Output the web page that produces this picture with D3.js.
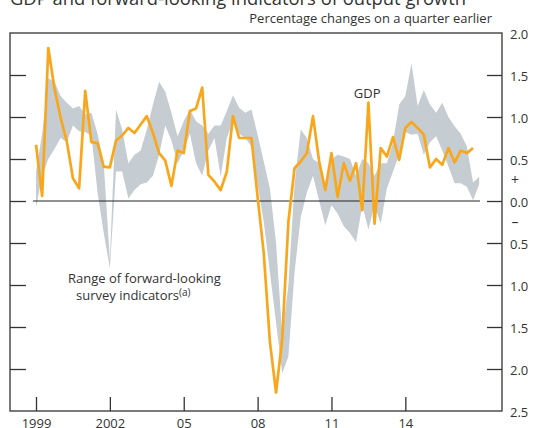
<!DOCTYPE html>
<head>
<meta charset="utf-8">
<style>
body { margin: 0; background: #fff; }
text { font-family: "Open Sans", sans-serif; fill: #333; }
.band { fill: #c5cdd2; stroke: none; }
.gdp { fill: none; stroke: #f8a71c; stroke-width: 2.7px; stroke-linejoin: round; }
.frame { fill: none; stroke: #333; stroke-width: 1.3px; }
.zero { stroke: #222; stroke-width: 1px; }
.axis .domain { display: none; }
.axis line { stroke: #333; stroke-width: 1.3px; }
.axis text { font-family: "Open Sans", sans-serif; font-size: 13px; fill: #333; }
</style>
<script src="https://d3js.org/d3.v7.min.js"></script>
</head>
<body>
<svg class="chart" width="533" height="428"></svg>
<script>

// Quarterly data, 1999 Q1 onwards.
var startYear = 1999;

// GDP, percentage change on a quarter earlier (1999 Q1 - 2016 Q4).
var gdp = [
  0.67, 0.06, 1.82, 1.34, 0.99, 0.71, 0.27, 0.15, 1.31, 0.70,
  0.69, 0.41, 0.40, 0.72, 0.78, 0.87, 0.81, 0.91, 1.01, 0.81,
  0.57, 0.48, 0.18, 0.60, 0.57, 1.07, 1.10, 1.35, 0.31, 0.23,
  0.13, 0.35, 1.01, 0.75, 0.75, 0.75, 0.05, -0.62, -1.68, -2.28,
  -1.64, -0.25, 0.39, 0.47, 0.57, 1.01, 0.47, 0.13, 0.57, 0.05,
  0.45, 0.24, 0.45, -0.11, 1.17, -0.27, 0.63, 0.53, 0.76, 0.49,
  0.87, 0.94, 0.87, 0.79, 0.40, 0.50, 0.43, 0.63, 0.46, 0.60,
  0.57, 0.63
];

// Range of forward-looking survey indicators (1999 Q1 - 2017 Q1).
var rangeHigh = [
  0.35, 0.80, 1.46, 1.42, 1.25, 1.17, 1.10, 1.13, 1.03, 1.05,
  0.80, 0.45, -0.70, 1.09, 0.85, 0.45, 0.55, 0.60, 0.85, 1.15,
  1.42, 1.30, 1.05, 0.77, 0.95, 1.09, 0.95, 0.90, 0.80, 0.90,
  0.90, 1.07, 1.26, 1.11, 1.05, 1.09, 0.79, 0.47, 0.15, -0.50,
  -1.60, -1.00, 0.20, 0.85, 0.75, 0.50, 0.45, 0.20, 0.50, 0.55,
  0.53, 0.50, 0.30, 0.50, 0.45, 0.30, 0.45, 0.45, 0.70, 1.15,
  1.25, 1.64, 1.13, 1.32, 1.15, 1.05, 1.17, 1.00, 0.89, 0.80,
  0.65, 0.22, 0.29
];
var rangeLow = [
  -0.08, 0.30, 0.50, 0.62, 0.75, 0.70, 0.90, 0.83, 0.82, 0.78,
  0.10, -0.38, -0.80, 0.35, 0.35, 0.03, 0.13, 0.20, 0.22, 0.30,
  0.55, 0.90, 0.72, 0.45, 0.60, 0.80, 0.45, 0.30, 0.60, 0.75,
  0.29, 0.75, 0.95, 0.80, 0.75, 0.65, 0.20, -0.25, -0.85, -1.45,
  -2.05, -1.85, -0.85, -0.20, 0.10, 0.30, 0.00, -0.29, -0.05, -0.15,
  -0.30, -0.38, -0.49, -0.05, -0.34, -0.05, -0.27, 0.15, 0.35, 0.55,
  0.82, 0.79, 0.80, 0.55, 0.70, 0.77, 0.60, 0.41, 0.21, 0.21,
  0.17, 0.01, 0.20
];

// Axis ticks and labels.
var xTickYears = [1999, 2002, 2005, 2008, 2011, 2014];
var xTickLabels = ["1999", "2002", "05", "08", "11", "14"];
var yTicks = [1.5, 1.0, 0.5, 0.0, -0.5, -1.0, -1.5, -2.0];
var yLabels = [2.0, 1.5, 1.0, 0.5, 0.0, -0.5, -1.0, -1.5, -2.0, -2.5];

var svg = d3.select(".chart"),
  frame = {left: 10, top: 33, right: 502, bottom: 411};

// Scales: quarters on x, percentages on y.
var x = d3.scaleLinear().domain([1999, 2017]).range([36, 479.2]);
var y = d3.scaleLinear().domain([-2.5, 2.0]).range([frame.bottom, frame.top]);

function qDate(i) { return startYear + i / 4; }

// Title (clipped at the top of the image) and subtitle.
svg.append("text")
  .attr("x", 10).attr("y", 4.7)
  .style("font-size", "18.4px")
  .text("GDP and forward-looking indicators of output growth");
svg.append("text")
  .attr("x", 492).attr("y", 23)
  .attr("text-anchor", "end")
  .style("font-size", "13px")
  .text("Percentage changes on a quarter earlier");

// Survey range band.
var area = d3.area()
  .x(function(d, i) { return x(qDate(i)); })
  .y0(function(d, i) { return y(rangeLow[i]); })
  .y1(function(d) { return y(d); });
svg.append("path")
  .datum(rangeHigh)
  .attr("class", "band")
  .attr("d", area);

// Zero line.
svg.append("line")
  .attr("class", "zero")
  .attr("x1", x(1998.875)).attr("x2", x(2017.03))
  .attr("y1", y(0)).attr("y2", y(0));

// GDP line.
var line = d3.line()
  .x(function(d, i) { return x(qDate(i)); })
  .y(function(d) { return y(d); });
svg.append("path")
  .datum(gdp)
  .attr("class", "gdp")
  .attr("d", line);

// Frame.
svg.append("rect")
  .attr("class", "frame")
  .attr("x", frame.left).attr("y", frame.top)
  .attr("width", frame.right - frame.left)
  .attr("height", frame.bottom - frame.top);

// Inner ticks on both sides.
svg.append("g")
  .attr("class", "axis")
  .attr("transform", "translate(" + frame.left + ",0)")
  .call(d3.axisRight(y).tickValues(yTicks).tickSize(16).tickFormat(""));
svg.append("g")
  .attr("class", "axis")
  .attr("transform", "translate(" + frame.right + ",0)")
  .call(d3.axisLeft(y).tickValues(yTicks).tickSize(15).tickFormat(""));

// Right-hand labels.
var yLab = svg.append("g")
  .attr("class", "axis")
  .attr("transform", "translate(" + frame.right + ",0)")
  .call(d3.axisRight(y).tickValues(yLabels).tickSize(0).tickPadding(8)
    .tickFormat(function(d) { return Math.abs(d).toFixed(1); }));
yLab.selectAll("text").attr("dy", "0.4em");
yLab.selectAll("line").remove();

svg.append("text")
  .attr("x", 515).attr("y", y(0.25)).attr("dy", "0.35em")
  .attr("text-anchor", "middle").style("font-size", "14px")
  .text("+");
svg.append("text")
  .attr("x", 515).attr("y", y(-0.25)).attr("dy", "0.35em")
  .attr("text-anchor", "middle").style("font-size", "14px")
  .text("\u2013");

// Bottom axis, ticks pointing up.
svg.append("g")
  .attr("class", "axis")
  .attr("transform", "translate(0," + frame.bottom + ")")
  .call(d3.axisBottom(x).tickValues(xTickYears).tickSize(-14).tickPadding(8)
    .tickFormat(function(d, i) { return xTickLabels[i]; }));

// Annotations.
svg.append("text")
  .attr("x", x(2012.45)).attr("y", y(1.23))
  .attr("text-anchor", "middle").style("font-size", "13px")
  .text("GDP");
svg.append("text")
  .attr("x", 68).attr("y", 282.5)
  .style("font-size", "13px")
  .text("Range of forward-looking");
var t2 = svg.append("text")
  .attr("x", 76).attr("y", 300)
  .style("font-size", "13px")
  .text("survey indicators");
t2.append("tspan")
  .attr("dy", -4).style("font-size", "10px")
  .text("(a)");

</script>
</body>
